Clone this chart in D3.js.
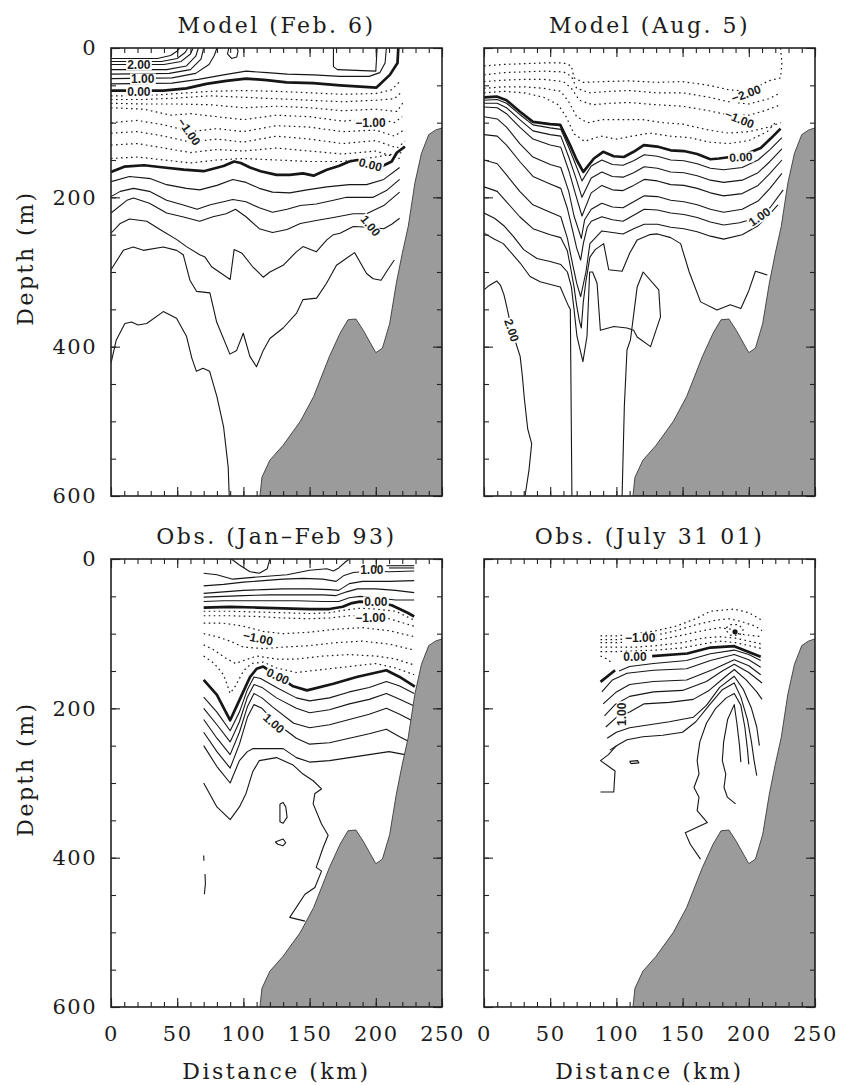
<!DOCTYPE html>
<html>
<head>
<meta charset="utf-8">
<script src="https://cdn.jsdelivr.net/npm/d3@7"></script>
<style>
  body { margin: 0; background: #fff; }
  svg text { fill: #1c1c1c; }
  .ax text { font-family: "DejaVu Serif", serif; font-size: 21px; letter-spacing: 1.5px; }
  .ttl { font-family: "DejaVu Serif", serif; font-size: 22px; letter-spacing: 2.5px; }
  .clab { font-family: "Liberation Sans", Arial, sans-serif; font-size: 12px; font-weight: bold; }
</style>
</head>
<body>
<svg id="chart" width="841" height="1085"></svg>
<script>
// ---- data: distance (km), depth (m) ----
var xMajor = [0, 50, 100, 150, 200, 250];
var yMajor = [0, 200, 400, 600];

// bottom topography (same in every panel)
var bathy = [[112.5,600],[114,575],[120,552],[130,532],[143,500],[153,467],[165,413],[173,382],[179,364],
  [185,363],[190.5,378],[200,408],[205,402],[210.5,369],[215.5,315],[220,275],[224.5,239],[229.5,181],
  [234.5,141],[240,116],[245,110],[250,107],[250,600]];

// Model (Feb. 6)
var febPos = [
  [[0,14],[35,14],[45,10],[50,4],[52,0]],
  [[0,18],[38,18],[50,14],[56,6],[58,0]],
  [[0,22],[40,22],[53,18],[60,8],[62,0]],
  [[0,29],[42,29],[57,24],[64,11],[66,0]],
  [[0,35],[44,34],[60,29],[68,15],[70,0]],
  [[0,41],[46,40],[64,34],[74,22],[78,10],[80,0]],
  [[0,48],[46,47],[66,42],[85,36],[102,31],[118,33],[133,35],[153,36],[173,38],[195,38],[203,33],[207,20],[208,0]],
  [[89,0],[88,8],[91,14],[95,12],[96,4],[95,0]],
  [[168,0],[168,25],[171,29],[200,31],[201,0]],
  [[0,179],[14,172],[30,175],[42,183],[57,188],[67,190],[80,184],[92,176],[102,180],[112,188],[122,193],[135,194],[148,190],[163,186],[180,183],[193,183],[206,176],[218,160]],
  [[0,199],[7,192],[17,188],[29,192],[42,204],[54,210],[65,216],[75,210],[85,206],[92,203],[102,206],[112,214],[122,220],[133,216],[143,211],[155,209],[168,204],[178,200],[188,200],[198,200],[208,191],[218,176]],
  [[0,221],[12,204],[17,201],[29,208],[42,221],[54,226],[67,232],[77,226],[87,222],[94,216],[102,226],[112,242],[122,247],[133,243],[143,235],[155,231],[168,227],[183,222],[193,222],[206,211],[218,193]],
  [[0,248],[7,235],[14,229],[27,232],[37,243],[50,257],[57,266],[67,277],[71,280],[76,293],[90,310],[93,270],[99,275],[107,293],[115,307],[120,300],[130,291],[140,273],[145,266],[155,273],[163,257],[168,250],[173,248],[183,239],[195,240],[206,242],[212,236],[218,228]],
  [[0,297],[9.3,271],[16.8,266.5],[24.4,271],[39.5,266.5],[49.6,271],[54.6,277],[59.6,311],[64.7,326],[74.7,328],[79.8,367],[89.8,410],[94.9,405],[99.9,382],[104.9,413],[109.9,427],[115,405],[120,389],[130,375],[140.2,355],[145,337],[155.3,335],[162.8,315],[170.3,291],[184,274],[193,302],[198,309],[204,311],[209,297],[214,284]],
  [[0,422],[4,391],[10.5,369],[15.5,367],[20.5,371],[27,369],[39.5,353],[49.5,362],[57,386],[61,415],[64.5,433],[69.5,429],[74.5,433],[80,467],[85,507],[88.5,561],[89.3,600]]
];
var febZero = [
  [[0,57],[39.5,57],[57,54],[72,48],[87,44],[102,41],[117.5,43],[132.6,46],[152.7,47],[173,50],[200.5,53],[210.6,36],[216.4,20],[217,0]],
  [[0,166],[10,159],[25,157],[40,160],[55,163],[70,165],[85,158],[93,152],[98,154],[105,160],[113,165],[125,170],[135,170],[145,168],[153,171],[163,163],[172,158],[180,152],[186,150],[196,155],[205,158],[212,152],[216,140],[222,132]]
];
var febNeg = [
  [[0,64],[25,64],[50,61],[75,58],[100,57],[125,58],[150,60],[175,62],[200,61],[212,56],[218,45]],
  [[0,69],[25,69],[50,67],[75,64],[100,66],[125,68],[150,70],[175,72],[200,70],[214,68],[220,58]],
  [[0,74],[25,75],[50,75],[75,76],[100,80],[125,78],[150,80],[175,84],[200,82],[216,85],[221,72]],
  [[0,80],[25,82],[45,90],[60,88],[80,92],[100,96],[125,90],[150,92],[175,98],[200,94],[214,100],[220,92]],
  [[0,100],[20,97],[40,103],[60,112],[80,108],[100,112],[125,104],[150,106],[175,112],[200,110],[214,118],[221,110]],
  [[0,114],[20,112],[40,118],[60,126],[80,122],[100,126],[125,118],[150,122],[175,128],[200,124],[216,134],[222,125]],
  [[0,130],[20,128],[40,134],[60,140],[80,136],[100,138],[125,134],[150,138],[175,142],[200,138],[218,148]],
  [[0,148],[20,146],[40,150],[60,154],[80,150],[100,148],[125,150],[150,152],[175,152],[200,146],[220,140]]
];
var febLabels = [["2.00",21,22,0],["1.00",24,41,0],["0.00",21,59,0],["\u22121.00",59,112,55],
  ["\u22121.00",196,100,0],["0.00",196,156,15],["1.00",196,238,50]];

// Model (Aug. 5)
var augPos = [
  [[0,70],[10,69],[17,74],[27,89],[37,103],[50,107],[58,109],[64,133],[69,155],[74,178],[81,158],[89,150],[97,156],[105,157],[113,151],[121,143],[131,145],[141,150],[151,151],[161,155],[171,161],[181,163],[195,160],[207,150],[216,136],[225,120]],
  [[0,74],[10,74],[17,80],[27,96],[37,111],[50,116],[58,118],[64,146],[69,172],[74,200],[81,174],[89,166],[97,172],[105,173],[113,167],[121,159],[131,161],[141,166],[151,167],[161,171],[171,177],[181,180],[195,177],[207,167],[216,152],[225,135]],
  [[0,79],[10,80],[17,88],[27,106],[37,122],[50,130],[58,133],[64,164],[69,195],[74,225],[81,194],[89,184],[97,190],[105,191],[113,184],[121,176],[131,178],[141,183],[151,184],[161,188],[171,194],[181,198],[195,195],[207,184],[216,168],[225,150]],
  [[0,92],[10,95],[17,106],[27,128],[37,146],[50,156],[58,160],[64,192],[68,225],[73.5,255],[76,230],[81,216],[89,208],[97,213],[105,214],[113,206],[121,198],[131,199],[141,204],[151,206],[161,210],[171,216],[181,220],[195,216],[207,205],[216,188],[225,168]],
  [[0,116],[10,118],[17,130],[27,152],[37,172],[50,182],[58,188],[63,215],[67,245],[70,268],[73,284],[75,262],[78,240],[81,232],[89,226],[97,230],[105,232],[113,224],[121,216],[131,217],[141,221],[151,223],[161,227],[171,233],[181,237],[193,234],[205,228],[216,214],[226,190]],
  [[0,150],[10,155],[17,170],[27,192],[37,210],[50,220],[58,226],[63,255],[67,290],[70,315],[73,333],[77,300],[80,262],[89,245],[97,247],[105,249],[113,242],[121,236],[131,236],[141,240],[151,242],[161,246],[171,252],[181,256],[195,250],[207,238],[216,222],[222,210]],
  [[0,186],[10,192],[17,206],[27,226],[37,242],[50,250],[58,254],[63,272],[66,300],[68,320],[70,345],[72,365],[73.5,375],[75,340],[77,312],[80,280],[84,270],[90.4,262],[94.2,297],[104.3,299],[110,275],[115.7,257],[125,250],[131,249],[141,254],[148.5,262],[155,300],[163.6,340],[176,351],[186,344],[194,349],[200,325],[205,299],[214,304]],
  [[0,221],[8,228],[15,238],[22,252],[30,270],[40,282],[50,286],[58,290],[63,300],[66,320],[68,350],[70.2,386],[74.7,420],[77.8,386],[79.8,300],[82,300],[85.4,315],[87.9,378],[98,373],[108,375],[113,378],[115.7,387],[125.8,400],[133.3,360],[132,324],[120.2,300],[115.7,320],[110.6,391],[108,404.5],[106,480],[104.3,600]],
  [[0,248],[8,256],[14.6,262],[27.3,288],[34.8,306],[42.4,313],[57.6,320],[63.9,346],[65.2,350],[66.4,600]],
  [[0,324],[4,318],[9.6,312],[12.5,318],[15,330],[17,345],[21,378],[27.3,413],[29,440],[30.5,470],[33,510],[36,530],[34,565],[31,600]]
];
var augZero = [
  [[0,66],[9.6,65],[17,70],[27,85],[37,99],[50,102],[57.6,103],[65,130],[70,150],[75,166],[83,148],[90,139],[98,145],[105.6,146],[113,139],[120.7,130],[130.8,132],[141,137],[151,138],[161,142],[171,149],[177.5,148],[186,146],[198,142],[209,134],[216.7,121],[224,108]]
];
var augNeg = [
  [[0,24],[15,22],[30,21],[45,20],[60,20],[66,24],[68,40],[75,46],[90,45],[110,44],[130,46],[150,45],[170,50],[185,56],[200,58],[215,44],[224,40],[225,20],[224,0]],
  [[0,36],[15,33],[30,32],[45,31],[60,32],[66,38],[70,54],[80,60],[95,58],[110,57],[130,60],[150,60],[170,66],[185,72],[200,75],[215,68],[224,60]],
  [[0,45],[15,43],[30,42],[45,42],[60,45],[66,54],[72,70],[82,76],[95,74],[110,73],[130,76],[150,78],[170,84],[185,90],[200,90],[212,84],[224,76]],
  [[0,54],[15,52],[30,52],[45,54],[58,58],[64,72],[70,92],[78,100],[90,96],[105,96],[120,96],[135,100],[150,102],[170,110],[185,114],[200,112],[215,106],[224,100]],
  [[0,60],[15,58],[30,60],[45,66],[56,76],[62,92],[68,115],[76,125],[88,118],[100,122],[112,118],[125,114],[140,118],[155,120],[170,126],[185,128],[200,124],[214,112],[220,100]]
];
var augLabels = [["\u22122.00",198,61,-20],["\u22121.00",193,95,22],["0.00",194,146,-3],["1.00",208,226,-35],["2.00",21,378,72]];

// Obs. (Jan-Feb 93)
var janPos = [
  [[91,0],[97,8],[105,17],[112,19],[118,13],[120,0]],
  [[70,19],[80,21],[92,27],[105,25],[118,23],[133,21],[150,15],[163,13],[168,16],[172,12],[177,4],[180,0]],
  [[70,36],[85,34],[100,31],[115,29],[130,27],[145,26],[160,27],[170,30],[176,22],[183,18],[197,16],[210,17],[229,16]],
  [[70,46],[85,44],[100,42],[115,41],[130,40],[150,40],[165,41],[172,42],[180,33],[190,30],[210,30],[229,29]],
  [[70,51],[85,50],[100,49],[120,48],[140,48],[160,48],[170,49],[178,44],[186,40],[200,40],[215,42],[229,45]],
  [[70,57],[85,56],[100,56],[120,56],[140,56],[160,57],[172,57],[180,52],[188,50],[200,52],[215,55],[229,55]],
  [[208,9],[229,9]],
  [[210,12],[229,12]],
  [[70,185],[80,205],[90,230],[97,205],[103,175],[108,158],[113,160],[125,172],[140,186],[150,190],[165,186],[180,178],[195,172],[208,164],[218,170],[229,180]],
  [[70,200],[80,222],[90,245],[97,218],[103,185],[108,168],[114,172],[125,186],[140,200],[150,206],[165,202],[180,194],[195,188],[208,180],[218,188],[229,197]],
  [[70,215],[80,240],[90,262],[97,232],[103,198],[108,180],[114,186],[122,198],[138,220],[150,226],[165,222],[180,215],[195,208],[208,200],[218,208],[229,218]],
  [[70,232],[80,258],[90,280],[97,248],[103,212],[108,195],[114,200],[125,220],[140,240],[150,248],[165,246],[180,240],[195,234],[208,228],[218,238],[229,248]],
  [[70,250],[80,278],[90,300],[97,270],[103,258],[107,254],[130,254],[140,266],[150,272],[165,270],[180,266],[195,262],[210,258],[222,262]],
  [[70,300],[80,332],[90,349],[97,332],[102,314],[107,285],[112,270],[125,266],[137.6,276],[145,288],[152.7,297],[159,308],[154,314],[152.7,328],[159,355],[164,370],[160.3,386],[155,413],[159,418],[154,440],[146.5,449],[135,480],[146.5,485]],
  [[127.6,328],[130,326],[132,332],[133,346],[130,354],[127.6,352],[127.6,340],[127.6,328]],
  [[124,379],[130,375],[132,380],[130,384],[126,382],[124,379]],
  [[70,397],[70.2,404]],
  [[71,422],[71.3,435],[70.5,449]]
];
var janZero = [
  [[70,65],[90,64],[110,65],[130,66],[150,67],[165,67],[175,64],[182,59],[188,57],[200,58],[212,62],[218,67],[224,72],[229,77]],
  [[70,162],[80,182],[90,216],[97,189],[105,158],[110,147],[115,144],[126,157],[137,170],[148,176],[168,167],[185.5,158],[208,149],[218,158],[229.5,171]]
];
var janNeg = [
  [[70,70],[90,70],[110,71],[130,72],[150,73],[165,72],[178,68],[188,66],[200,67],[215,70],[229,82]],
  [[70,76],[90,76],[110,77],[130,79],[150,80],[165,79],[180,76],[195,76],[210,80],[229,90]],
  [[70,86],[85,86],[100,90],[115,97],[130,100],[150,98],[170,94],[190,92],[210,96],[229,104]],
  [[70,100],[80,104],[90,110],[100,118],[115,120],[130,118],[150,116],[170,112],[190,110],[210,114],[229,122]],
  [[70,115],[78,122],[86,132],[94,140],[100,136],[110,130],[125,134],[140,134],[160,130],[180,128],[200,130],[215,134],[229,142]],
  [[70,130],[78,140],[85,155],[90,180],[94,170],[100,150],[106,140],[115,138],[125,146],[140,152],[160,148],[180,144],[200,140],[215,146],[229,155]]
];
var janLabels = [["1.00",197,14,0],["0.00",200,57,0],["\u22121.00",196,78,0],["\u22121.00",111,106,12],["0.00",126,157,25],["1.00",123,220,42]];

// Obs. (July 31 01)
var julPos = [
  [[102,150],[110,144],[128,140],[153,136],[171,127],[189,122],[200,128],[209,136]],
  [[89,178],[97,162],[108,153],[128,149],[153,147],[171,136],[189,128],[200,135],[209,145]],
  [[90,194],[100,178],[110,168],[128,164],[153,162],[173,148],[189,135],[200,143],[209,155]],
  [[91,210],[99,195],[110,184],[128,178],[150,176],[168,164],[180,150],[189,141],[200,152],[210,166]],
  [[92,225],[100,212],[110,205],[121,194],[140,192],[158,188],[170,176],[182,158],[189,148],[198,162],[206,178],[210,188]],
  [[93,240],[100,232],[110,226],[125,222],[140,218],[158,212],[168,196],[178,172],[189,157],[196,175],[202,200],[206,225],[208,250]],
  [[95,256],[102,248],[108,242],[120,238],[135,236],[150,232],[160,218],[170,196],[180,175],[189,166],[194,185],[199,215],[202,245],[204,270],[206,290]],
  [[163.5,402],[155.8,382],[152,366.5],[168.7,353],[161,337],[162.4,319],[158.6,306],[162.4,288],[161,270],[163,245],[168,220],[175,200],[183,186],[189,180],[194,196],[197,225],[199,255],[200,275]],
  [[190,328],[183.8,319],[181.3,306],[182.6,288],[180,270],[181,245],[184,215],[189,195],[191,220],[193,250],[194,272]],
  [[100,250],[94,262],[88,270],[99,284],[98,312],[88,312]],
  [[110,271],[116,270],[117,273],[111,274],[110,271]]
];
var julZero = [
  [[127,130],[153.5,126.6],[171,118.6],[189,116.8],[209,131]],
  [[88,164.6],[99,149]]
];
var julNeg = [
  [[88,103],[100,103],[115,100],[130,96],[145,90],[160,80],[171,70],[189,67],[200,72],[210,82]],
  [[88,108],[100,108],[115,106],[130,102],[145,96],[160,88],[175,82],[185,80],[195,84],[205,90],[210,96]],
  [[88,112],[100,112],[115,111],[133,108],[150,102],[165,96],[178,92],[186,94],[192,100],[200,102],[210,104]],
  [[88,118],[100,118],[115,118],[130,116],[150,112],[165,106],[178,104],[190,106],[200,110],[210,114]],
  [[88,124],[100,124],[115,123],[130,122],[150,119],[165,114],[178,110],[190,112],[200,116],[210,120]],
  [[88,130],[93,134],[97,140]],
  [[183,92],[186,88],[192,88],[196,94],[193,102],[186,102],[183,96],[183,92]]
];
var julDots = [[189.6,97.5]];
var julLabels = [["\u22121.00",118,106,0],["0.00",114,131,0],["1.00",104,208,-90]];

// ---- layout ----
var panels = [
  {title: "Model (Feb. 6)",  left: 111, top: 48,  pos: febPos, zero: febZero, neg: febNeg, labels: febLabels, dots: [], ylab: true,  xlab: false},
  {title: "Model (Aug. 5)",  left: 484, top: 48,  pos: augPos, zero: augZero, neg: augNeg, labels: augLabels, dots: [], ylab: false, xlab: false},
  {title: "Obs. (Jan\u2013Feb 93)", left: 111, top: 559, pos: janPos, zero: janZero, neg: janNeg, labels: janLabels, dots: [], ylab: true,  xlab: true},
  {title: "Obs. (July 31 01)", left: 484, top: 559, pos: julPos, zero: julZero, neg: julNeg, labels: julLabels, dots: julDots, ylab: false, xlab: true}
];
var pw = 331, ph = 448;
var ink = "#161616";

var svg = d3.select("#chart");

panels.forEach(function (p, i) {
  var x = d3.scaleLinear().domain([0, 250]).range([p.left, p.left + pw]);
  var y = d3.scaleLinear().domain([0, 600]).range([p.top, p.top + ph]);
  var line = d3.line().x(function (d) { return x(d[0]); }).y(function (d) { return y(d[1]); });

  svg.append("clipPath").attr("id", "clip" + i)
    .append("rect").attr("x", p.left).attr("y", p.top).attr("width", pw).attr("height", ph);

  var g = svg.append("g").attr("clip-path", "url(#clip" + i + ")");

  g.selectAll("path.neg").data(p.neg).join("path").attr("class", "neg")
    .attr("d", line).attr("fill", "none").attr("stroke", ink)
    .attr("stroke-width", 1.2).attr("stroke-dasharray", "1.6,3.4");

  g.selectAll("path.pos").data(p.pos).join("path").attr("class", "pos")
    .attr("d", line).attr("fill", "none").attr("stroke", ink)
    .attr("stroke-width", 1.1).attr("stroke-linejoin", "round");

  g.selectAll("path.zero").data(p.zero).join("path").attr("class", "zero")
    .attr("d", line).attr("fill", "none").attr("stroke", ink)
    .attr("stroke-width", 2.7).attr("stroke-linejoin", "round");

  g.selectAll("circle").data(p.dots).join("circle")
    .attr("cx", function (d) { return x(d[0]); }).attr("cy", function (d) { return y(d[1]); })
    .attr("r", 2.6).attr("fill", ink);

  g.append("path").datum(bathy)
    .attr("d", function (d) { return line(d) + "Z"; })
    .attr("fill", "#9b9b9b").attr("stroke", "#3a3a3a").attr("stroke-width", 0.9);

  // contour labels, with a white patch breaking the line underneath
  p.labels.forEach(function (l) {
    var lg = g.append("g")
      .attr("transform", "translate(" + x(l[1]) + "," + y(l[2]) + ") rotate(" + l[3] + ")");
    var t = lg.append("text").attr("class", "clab")
      .attr("text-anchor", "middle").attr("dy", "0.36em").text(l[0]);
    var bb = t.node().getBBox();
    lg.insert("rect", "text")
      .attr("x", bb.x - 1).attr("y", bb.y + 1.5)
      .attr("width", bb.width + 2).attr("height", bb.height - 3)
      .attr("fill", "#fff");
  });

  // ticks
  var xMinor = d3.range(0, 251, 10), yMinor = d3.range(0, 601, 50);
  var blank = function () { return ""; };
  var axes = svg.append("g").attr("class", "ax");

  axes.append("g").attr("transform", "translate(0," + (p.top + ph) + ")")
    .call(d3.axisBottom(x).tickValues(xMinor).tickSizeInner(-5).tickSizeOuter(0).tickFormat(blank));
  axes.append("g").attr("transform", "translate(0," + (p.top + ph) + ")")
    .call(d3.axisBottom(x).tickValues(xMajor).tickSizeInner(-9).tickSizeOuter(0).tickPadding(19)
      .tickFormat(p.xlab ? d3.format("d") : blank));
  axes.append("g").attr("transform", "translate(0," + p.top + ")")
    .call(d3.axisTop(x).tickValues(xMinor).tickSizeInner(-5).tickSizeOuter(0).tickFormat(blank));
  axes.append("g").attr("transform", "translate(0," + p.top + ")")
    .call(d3.axisTop(x).tickValues(xMajor).tickSizeInner(-9).tickSizeOuter(0).tickFormat(blank));

  axes.append("g").attr("transform", "translate(" + p.left + ",0)")
    .call(d3.axisLeft(y).tickValues(yMinor).tickSizeInner(-5).tickSizeOuter(0).tickFormat(blank));
  axes.append("g").attr("transform", "translate(" + p.left + ",0)")
    .call(d3.axisLeft(y).tickValues(yMajor).tickSizeInner(-9).tickSizeOuter(0).tickPadding(14)
      .tickFormat(p.ylab ? d3.format("d") : blank));
  axes.append("g").attr("transform", "translate(" + (p.left + pw) + ",0)")
    .call(d3.axisRight(y).tickValues(yMinor).tickSizeInner(-5).tickSizeOuter(0).tickFormat(blank));
  axes.append("g").attr("transform", "translate(" + (p.left + pw) + ",0)")
    .call(d3.axisRight(y).tickValues(yMajor).tickSizeInner(-9).tickSizeOuter(0).tickFormat(blank));

  axes.selectAll(".domain").remove();
  axes.selectAll(".tick line").attr("stroke", "#222").attr("stroke-width", 1.1);
  axes.selectAll(".tick text").attr("fill", "#1c1c1c");

  svg.append("rect").attr("x", p.left).attr("y", p.top).attr("width", pw).attr("height", ph)
    .attr("fill", "none").attr("stroke", "#222").attr("stroke-width", 1.6);

  svg.append("text").attr("class", "ttl")
    .attr("x", p.left + pw / 2).attr("y", p.top - 15)
    .attr("text-anchor", "middle").text(p.title);

  if (p.ylab) {
    svg.append("text").attr("class", "ttl")
      .attr("transform", "translate(33," + (p.top + 210) + ") rotate(-90)")
      .attr("text-anchor", "middle").text("Depth (m)");
  }
  if (p.xlab) {
    svg.append("text").attr("class", "ttl")
      .attr("x", p.left + pw / 2).attr("y", p.top + ph + 72)
      .attr("text-anchor", "middle").text("Distance (km)");
  }
});
</script>
</body>
</html>
